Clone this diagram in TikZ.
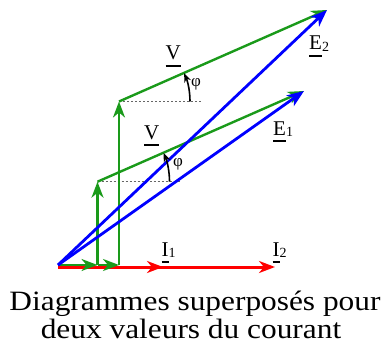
\documentclass[tikz,border=0pt]{standalone}
\usepackage{fontspec}
\setmainfont{Liberation Serif}
\newfontfamily\capfont[FakeStretch=1.12]{Liberation Serif}
\usetikzlibrary{arrows.meta}
\definecolor{vgreen}{HTML}{1A9A1A}
\definecolor{eblue} {HTML}{0000FF}
\definecolor{ired}  {HTML}{FF0000}
\newcommand{\ulin}[1]{\setbox0=\hbox{#1}\rlap{\rule[-6.5pt]{\wd0}{1.8pt}}\box0}
\newcommand{\vlab}[2]{\ulin{#1}\raisebox{-1.5pt}{\fontsize{14}{14}\selectfont #2}}
\tikzset{
  greenarr/.style ={-{Stealth[length=16pt,width=12pt,inset=5pt]}, line width=2.4pt, color=vgreen},
  bluearr/.style  ={-{Stealth[length=17pt,width=13pt,inset=5pt]}, line width=2.8pt, color=eblue},
  redarr/.style   ={-{Stealth[length=16pt,width=12pt,inset=5pt]}, line width=3pt, color=ired},
  anglearr/.style ={-{Stealth[length=9pt,width=7pt,inset=3pt]}, line width=1.6pt, color=black},
  dashline/.style ={dashed, dash pattern=on 2pt off 2pt, line width=0.6pt, color=black!60},
  veclab/.style   ={font=\fontsize{21}{21}\selectfont, inner sep=0pt},
  philab/.style   ={font=\fontsize{17}{17}\selectfont, inner sep=0pt},
  caplab/.style   ={font=\capfont\fontsize{28}{28}\selectfont, inner sep=0pt, anchor=base,
                    text height=19pt, text depth=5pt},
}
\begin{document}
\begin{tikzpicture}[x=1pt,y=1pt]
  \useasboundingbox (0,0) rectangle (390,354);
  % points of the diagram
  \coordinate (O)  at (58,89);
  \coordinate (Or) at (58,87);
  \coordinate (I1) at (163,87);
  \coordinate (I2) at (275,87);
  \coordinate (G1) at (97.5,89);
  \coordinate (G2) at (119,89);
  \coordinate (C1) at (97.5,172.3);
  \coordinate (C2) at (119,252.5);
  \coordinate (T1) at (304,263);
  \coordinate (T2) at (327,344);
  \coordinate (D1) at (180,172.3);
  \coordinate (D2) at (202,252.5);
  \coordinate (P1) at ([xshift=72pt]C1);
  \coordinate (P2) at ([xshift=71pt]C2);

  % currents
  \draw[redarr] (Or) -- (I2);
  \draw[redarr] (Or) -- (I1);

  % voltages
  \draw[dashline] (C1) -- (D1);
  \draw[dashline] (C2) -- (D2);
  \draw[greenarr] (O) -- (G1);
  \draw[greenarr] (G1) -- (G2);
  \draw[greenarr] (G1) -- (C1);
  \draw[greenarr] (G2) -- (C2);
  \draw[greenarr] (C1) -- (T1);
  \draw[greenarr] (C2) -- (T2);

  % emf
  \draw[bluearr] (O) -- (T1);
  \draw[bluearr] (O) -- (T2);

  % angles
  \draw[anglearr] (P1) arc[start angle=0,end angle=23.5,radius=72];
  \draw[anglearr] (P2) arc[start angle=0,end angle=23.5,radius=71];

  % labels
  \node[veclab,anchor=base west] (lI1) at (161.5,98) {\vlab{I}{1}};
  \node[veclab,anchor=base west] (lI2) at (272.5,98) {\vlab{I}{2}};
  \node[veclab,anchor=base west] (lE1) at (273,219) {\vlab{E}{1}};
  \node[veclab,anchor=base west] (lE2) at (309,304) {\vlab{E}{2}};
  \node[veclab,anchor=base] (lV1) at (151.7,215) {\ulin{V}};
  \node[veclab,anchor=base] (lV2) at (173.3,294) {\ulin{V}};
  \node[philab] (lp1) at (178,190) {φ};
  \node[philab] (lp2) at (196,270) {φ};

  \node[caplab] (cap1) at (195,43.5) {Diagrammes superposés pour};
  \node[caplab] (cap2) at (191,16) {deux valeurs du courant};
\end{tikzpicture}
\end{document}
